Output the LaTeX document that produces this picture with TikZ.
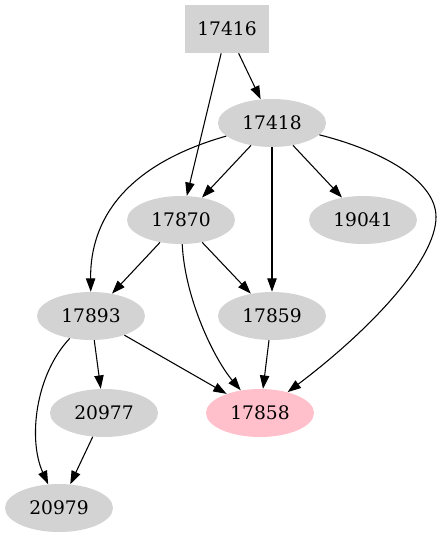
\documentclass[tikz,border=0pt]{standalone}
\usepackage{fontspec}
\setmainfont{DejaVu Serif}
\usepackage{xcolor}
\usetikzlibrary{shapes.geometric,arrows.meta}

\definecolor{nodegray}{HTML}{D3D3D3}
\definecolor{nodepink}{HTML}{FFC0CB}

\begin{document}
\begin{tikzpicture}[x=0.75pt, y=-0.75pt,
                    every node/.style={fill=nodegray, inner sep=0pt,
                                      font=\fontsize{14}{16}\selectfont},
                    oval/.style={ellipse, minimum width=81pt, minimum height=36pt},
                    edge/.style={-{Triangle[length=10pt,width=7pt]}, line width=0.8pt}]

\useasboundingbox (0,0) rectangle (441,539);

% Top row
\node[rectangle, minimum width=63pt, minimum height=36pt] (n17416) at (227,29) {17416};
\node[oval] (n17418) at (272,123) {17418};

% Middle rows
\node[oval] (n17870) at (181,220) {17870};
\node[oval] (n19041) at (363,220) {19041};
\node[oval] (n17893) at (91,316) {17893};
\node[oval] (n17859) at (272,316) {17859};

% Bottom rows
\node[oval] (n20977) at (104,413) {20977};
\node[oval, fill=nodepink] (n17858) at (260,413) {17858};
\node[oval] (n20979) at (59,508) {20979};

% Connections
\draw[edge] (n17416) -- (n17418);
\draw[edge] (n17416) -- (n17870);

\draw[edge] (n17418) -- (n17870);
\draw[edge] (n17418) -- (n19041);
\draw[edge] (n17418) -- (n17859);
\draw[edge] (n17418) .. controls (125,165) and (90,220) .. (n17893);
\draw[edge] (n17418) .. controls (380,150) and (436,180) .. (436,217)
                     .. controls (436,260) and (370,330) .. (n17858);

\draw[edge] (n17870) -- (n17893);
\draw[edge] (n17870) -- (n17859);
\draw[edge] (n17870) .. controls (185,300) and (215,360) .. (n17858);

\draw[edge] (n17893) -- (n20977);
\draw[edge] (n17893) -- (n17858);
\draw[edge] (n17893) .. controls (35,375) and (28,440) .. (n20979);

\draw[edge] (n17859) -- (n17858);
\draw[edge] (n20977) -- (n20979);

\end{tikzpicture}
\end{document}
